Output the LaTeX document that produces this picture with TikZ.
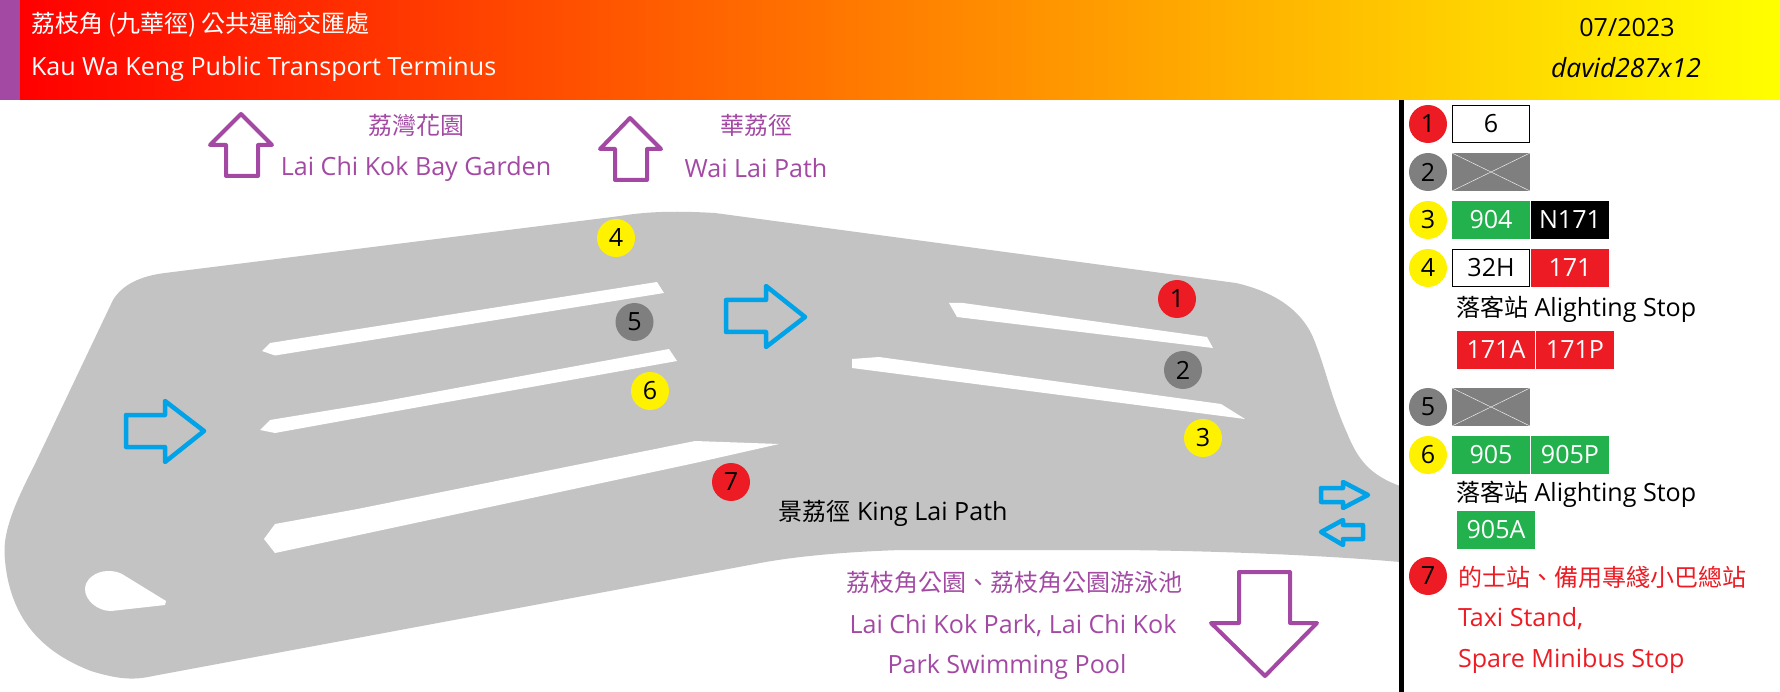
\documentclass[tikz,border=0pt]{standalone}
\usepackage{fontspec}
\setmainfont{Open Sans}[Scale=1.045]
\newfontfamily\cjk{Noto Sans CJK TC}
\usetikzlibrary{positioning}
\definecolor{roadgrey}{HTML}{C3C3C3}
\definecolor{stopred}{HTML}{ED1C24}
\definecolor{stopgrey}{HTML}{7F7F7F}
\definecolor{stopyellow}{HTML}{FFF200}
\definecolor{busgreen}{HTML}{22B14C}
\definecolor{signpurple}{HTML}{A349A4}
\definecolor{flowblue}{HTML}{00A2E8}
\newcommand{\bigfont}{\fontsize{24}{28}\selectfont}
\tikzstyle{txt}=[inner sep=0,outer sep=0,font=\bigfont]
\tikzstyle{sign}=[txt,text=signpurple]
\tikzstyle{taxi}=[txt,text=stopred,anchor=west]
\tikzstyle{road}=[fill=roadgrey]
\tikzstyle{island}=[fill=white]
\tikzstyle{flow}=[draw=flowblue,line width=4.5pt,line join=round]
\tikzstyle{exit}=[draw=signpurple,fill=white,line width=4pt,line join=round]
\tikzstyle{dot}=[circle,minimum size=38pt,inner sep=0,outer sep=0,txt]
\tikzstyle{route}=[minimum width=78pt,minimum height=38pt,inner sep=0,outer sep=0,txt,node distance=1pt]
\tikzstyle{rwhite}=[route,draw=black,line width=1pt,minimum width=77pt,minimum height=37pt]
\tikzstyle{rgreen}=[route,fill=busgreen,text=white]
\tikzstyle{rred}=[route,fill=stopred,text=white]
\tikzstyle{rblack}=[route,fill=black,text=white]
\tikzstyle{rnone}=[route,fill=stopgrey]
\newcommand{\stopdot}[4]{\node[dot,fill=#3] (#1) at (#2) {#4};}
\newcommand{\nobus}[2]{\node[rnone,right=5pt of #1] (#2) {};\draw[white] (#2.north west) -- (#2.south east) (#2.south west) -- (#2.north east);}
\begin{document}
\begin{tikzpicture}[x=1pt,y=-1pt]
  \useasboundingbox (0,0) rectangle (1780,692);
  % header
  \fill[signpurple] (0,0) rectangle (20,100);
  \shade[left color=red,right color=yellow] (20,0) rectangle (1780,100);
  \node[txt,text=white,anchor=west] (titlezh) at (31,25) {\cjk 荔枝角 (九華徑) 公共運輸交匯處};
  \node[txt,text=white,anchor=west] (titleen) at (31,69) {Kau Wa Keng Public Transport Terminus};
  \node[txt] (date) at (1627,28) {07/2023};
  \node[txt] (credit) at (1626,68) {\fontsize{25.3}{30}\selectfont\itshape david287x12};
  % road
  \fill[road] (165,273) -- (620,216) .. controls (650,211) and (680,211) .. (715,213)
    -- (1236,283) .. controls (1275,292) and (1300,310) .. (1312,335)
    .. controls (1325,365) and (1330,395) .. (1347,433)
    .. controls (1358,460) and (1370,475) .. (1400,486) -- (1400,562)
    .. controls (1320,555) and (1200,550) .. (1100,550) -- (901,550)
    .. controls (840,552) and (790,557) .. (755,564) -- (153,676)
    .. controls (135,680) and (120,680) .. (91,671)
    .. controls (50,655) and (8,625) .. (4.5,553)
    .. controls (4,530) and (14,505) .. (34,466) -- (113,300)
    .. controls (122,285) and (140,276) .. (165,273) -- cycle;
  % islands
  \fill[island] (270,343) -- (657,282) -- (664,293) -- (275,355.5) -- (262,351) -- cycle;
  \fill[island] (270,420) -- (380,402) -- (669,349) -- (677,361) -- (380,414) -- (275,433) -- (260,430) -- cycle;
  \fill[island] (275,524) -- (357.5,509) -- (695,441) -- (779,444) -- (695,463) -- (275,553) -- (264,539) -- cycle;
  \fill[island] (108,571) .. controls (114,571) and (118,572) .. (122,574) -- (166,601) -- (165,605) -- (111,611)
    .. controls (97,611) and (85,600) .. (85,589) .. controls (85,580) and (95,571) .. (108,571) -- cycle;
  \fill[island] (949,303) -- (963,303) -- (1207,337) -- (1213,348) -- (957,317) -- cycle;
  \fill[island] (852,359) -- (879,357) -- (1221,404) -- (1245,419) -- (852,368) -- cycle;
  % traffic flow
  \draw[flow] (126,415) -- (165,415) -- (165,401) -- (204,431) -- (165,462) -- (165,447) -- (126,447) -- cycle;
  \draw[flow] (726,300) -- (766,300) -- (766,286) -- (805,317) -- (766,347) -- (766,332) -- (726,332) -- cycle;
  \draw[flow] (1321,488) -- (1343,488) -- (1343,482) -- (1368,495) -- (1343,508) -- (1343,502) -- (1321,502) -- cycle;
  \draw[flow] (1321,532) -- (1343,520) -- (1343,525) -- (1363,525) -- (1363,539) -- (1343,539) -- (1343,545) -- cycle;
  % exits
  \draw[exit] (241,114) -- (272,145) -- (258,145) -- (258,176) -- (226,176) -- (226,145) -- (210,145) -- cycle;
  \draw[exit] (630,118) -- (661,149) -- (647,149) -- (647,180) -- (615,180) -- (615,149) -- (600,149) -- cycle;
  \draw[exit] (1239,572) -- (1290,572) -- (1290,623) -- (1317,623) -- (1265,676) -- (1211,623) -- (1239,623) -- cycle;
  \node[sign] (bayzh) at (416,125) {\cjk 荔灣花園};
  \node[sign] (bayen) at (416,169) {Lai Chi Kok Bay Garden};
  \node[sign] (waizh) at (756,125) {\cjk 華荔徑};
  \node[sign] (waien) at (756,168) {Wai Lai Path};
  \node[sign] (parkzh) at (1014,582) {\cjk 荔枝角公園、荔枝角公園游泳池};
  \node[sign] (parken) at (1013,626) {Lai Chi Kok Park, Lai Chi Kok};
  \node[sign] (poolen) at (1007,667) {Park Swimming Pool};
  \node[txt] (kinglai) at (893,513) {{\cjk 景荔徑} King Lai Path};
  % stops on the map
  \stopdot{s1}{1177,299}{stopred}{1}
  \stopdot{s2}{1183,370}{stopgrey}{2}
  \stopdot{s3}{1203,438}{stopyellow}{3}
  \stopdot{s4}{616,238}{stopyellow}{4}
  \stopdot{s5}{634.5,322}{stopgrey}{5}
  \stopdot{s6}{650,391}{stopyellow}{6}
  \stopdot{s7}{731,482}{stopred}{7}
  % legend
  \fill[black] (1399,100) rectangle (1404,692);
  \stopdot{l1}{1428,124}{stopred}{1}
  \stopdot{l2}{1428,172}{stopgrey}{2}
  \stopdot{l3}{1428,220}{stopyellow}{3}
  \stopdot{l4}{1428,268}{stopyellow}{4}
  \stopdot{l5}{1428,407}{stopgrey}{5}
  \stopdot{l6}{1428,455}{stopyellow}{6}
  \stopdot{l7}{1428,576}{stopred}{7}
  \node[rwhite,right=5.5pt of l1] (r6) {6};
  \nobus{l2}{x2}
  \node[rgreen,right=5pt of l3] (r904) {904};
  \node[rblack,right=of r904] (rN171) {N171};
  \node[rwhite,right=5.5pt of l4] (r32H) {32H};
  \node[rred,right=1.5pt of r32H] (r171) {171};
  \node[txt,anchor=west] (alight4) at (1456,309) {{\cjk 落客站} Alighting Stop};
  \node[rred,anchor=west] (r171A) at (1457,350) {171A};
  \node[rred,right=of r171A] (r171P) {171P};
  \nobus{l5}{x5}
  \node[rgreen,right=5pt of l6] (r905) {905};
  \node[rgreen,right=of r905] (r905P) {905P};
  \node[txt,anchor=west] (alight6) at (1456,494) {{\cjk 落客站} Alighting Stop};
  \node[rgreen,anchor=west] (r905A) at (1457,530) {905A};
  \node[taxi] (taxizh) at (1458,577) {\cjk 的士站、備用專綫小巴總站};
  \node[taxi] (taxien) at (1458,619) {Taxi Stand,};
  \node[taxi] (minibus) at (1458,661) {Spare Minibus Stop};
\end{tikzpicture}
\end{document}
